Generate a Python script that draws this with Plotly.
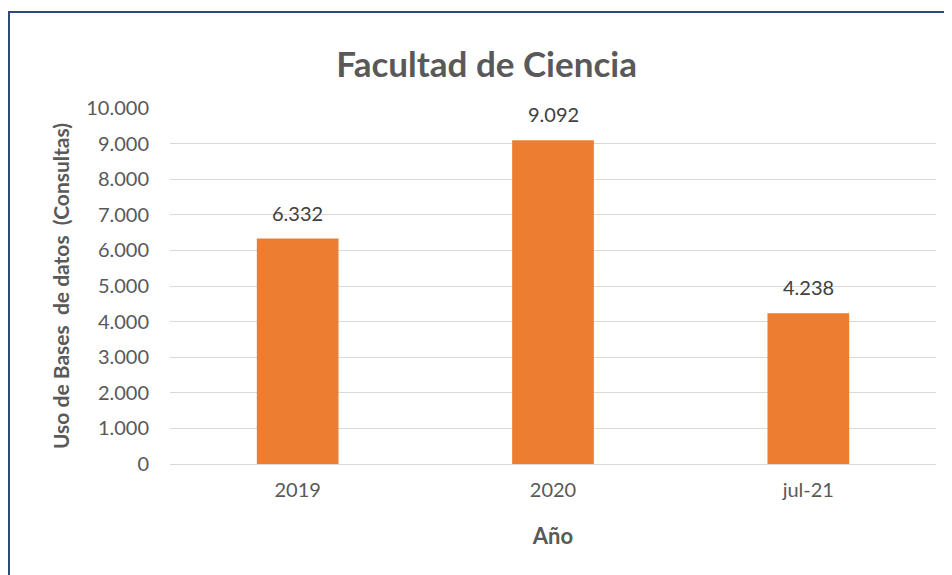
import plotly.graph_objects as go

# Data
categories = ["2019", "2020", "jul-21"]
consultas = [6332, 9092, 4238]
y_ticks = [0, 1000, 2000, 3000, 4000, 5000, 6000, 7000, 8000, 9000, 10000]

BAR_COLOR = "#ED7D31"
TEXT_GRAY = "#595959"
FONT = "Lato, 'Open Sans', sans-serif"

fig = go.Figure()
fig.add_trace(go.Bar(
    x=categories,
    y=consultas,
    marker=dict(color=BAR_COLOR, line=dict(width=0)),
    hoverinfo="x+y",
))

# data labels above the bars (x given as category index)
for i, val in enumerate(consultas):
    fig.add_annotation(
        x=i, y=val, text=f"{val:,}".replace(",", "."),
        showarrow=False, yanchor="bottom", yshift=12,
        font=dict(family=FONT, size=20, color="#404040"),
    )

# chart border (left / top visible, rest cropped)
fig.add_shape(
    type="rect", xref="paper", yref="paper",
    x0=-0.2102, x1=1.2, y0=-0.6, y1=1.2697,
    line=dict(color="#2E4A7A", width=2), layer="below",
)

# page body has an 8px margin, so the figure is sized to fit the window
fig.update_layout(
    width=944,
    height=567,
    margin=dict(l=162, r=16, t=100, b=111),
    paper_bgcolor="white",
    plot_bgcolor="white",
    separators=",.",
    bargap=0.68,
    showlegend=False,
    font=dict(family=FONT, color=TEXT_GRAY),
    title=dict(
        text="<b>Facultad de Ciencia</b>",
        x=0.507, xanchor="center", y=0.9, yanchor="middle",
        font=dict(family=FONT, size=35, color=TEXT_GRAY),
    ),
    xaxis=dict(
        type="category",
        range=[-0.5, len(categories) - 0.5],
        showgrid=False,
        showline=True,
        linecolor="#D9D9D9",
        linewidth=1,
        ticks="",
        ticklabelstandoff=8,
        tickfont=dict(size=20, color=TEXT_GRAY),
        title=dict(text="<b>Año</b>", font=dict(size=22, color=TEXT_GRAY), standoff=28),
    ),
    yaxis=dict(
        range=[0, 10000],
        tickvals=y_ticks,
        tickformat=",d",
        showgrid=True,
        gridcolor="#D9D9D9",
        gridwidth=1,
        zeroline=False,
        showline=False,
        ticks="",
        ticklabelstandoff=20,
        tickfont=dict(size=20, color=TEXT_GRAY),
        title=dict(text="<b>Uso de Bases  de datos  (Consultas)</b>",
                   font=dict(size=21, color=TEXT_GRAY), standoff=10),
    ),
)

fig.write_html("out.html")
